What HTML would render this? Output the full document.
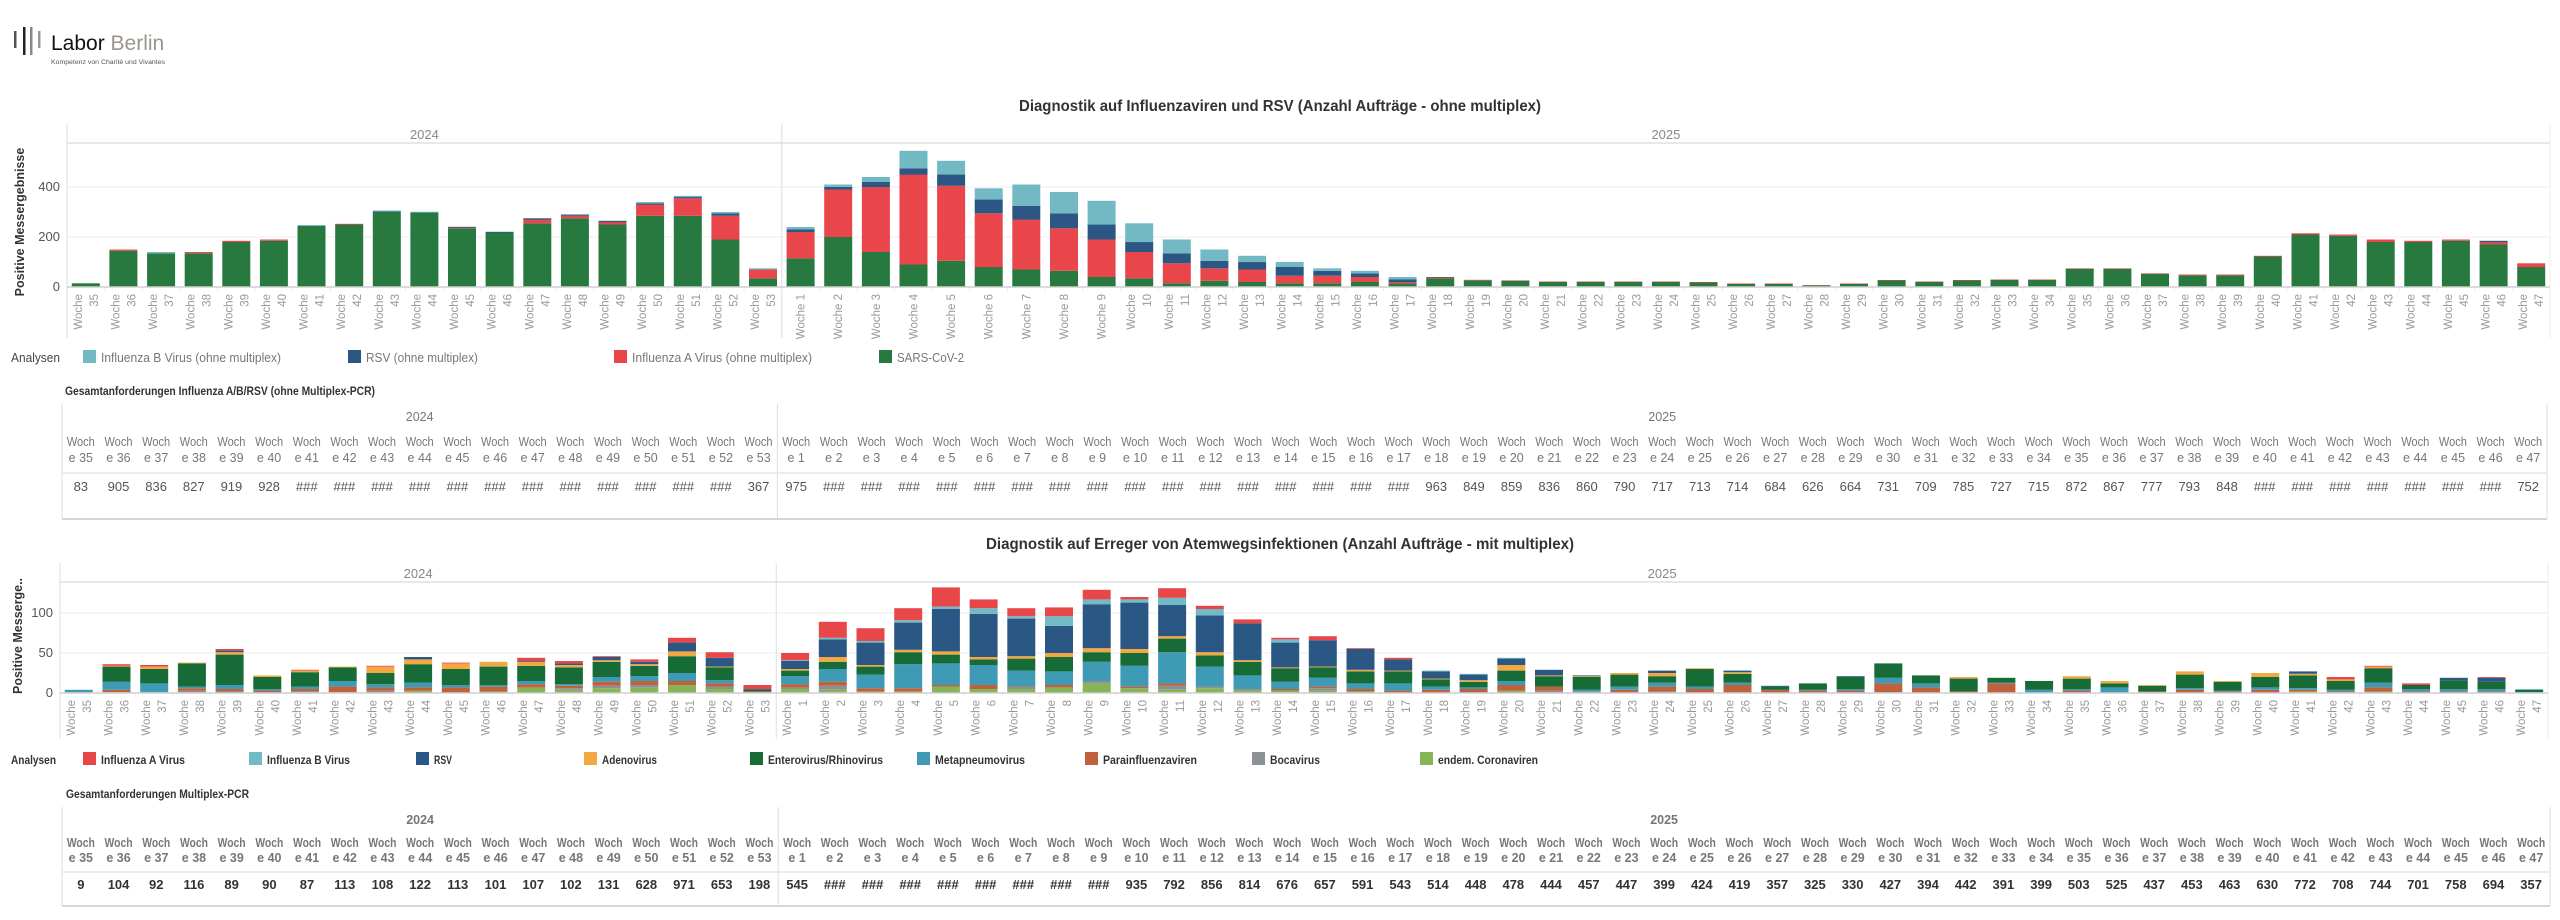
<!DOCTYPE html>
<html><head><meta charset="utf-8">
<style>
html,body{margin:0;padding:0;background:#fff;width:2560px;height:920px;overflow:hidden}
svg{display:block}
text{font-family:"Liberation Sans",sans-serif}
</style></head><body>
<svg id="s" xmlns="http://www.w3.org/2000/svg" width="2560" height="920" viewBox="0 0 2560 920">
<!-- logo -->
<rect x="14" y="31" width="2.5" height="17" fill="#555"/>
<rect x="23" y="27" width="2.5" height="28" fill="#222"/>
<rect x="30" y="27" width="2.5" height="28" fill="#888"/>
<rect x="38" y="31" width="2.5" height="17" fill="#999"/>
<text x="51" y="50" font-size="21" fill="#111">Labor <tspan fill="#9a968a">Berlin</tspan></text>
<text x="51" y="64" font-size="6.5" fill="#555" textLength="114" lengthAdjust="spacingAndGlyphs">Kompetenz von Charité und Vivantes</text>
<text x="1280" y="111" font-size="16" font-weight="bold" fill="#333" text-anchor="middle" textLength="522" lengthAdjust="spacingAndGlyphs">Diagnostik auf Influenzaviren und RSV (Anzahl Aufträge - ohne multiplex)</text>
<text x="1280" y="549" font-size="16" font-weight="bold" fill="#333" text-anchor="middle" textLength="588" lengthAdjust="spacingAndGlyphs">Diagnostik auf Erreger von Atemwegsinfektionen (Anzahl Aufträge - mit multiplex)</text>
<g id="g"></g>
</svg>
<script>
var g=document.getElementById('g'),out='';
function T(x,y,s,o){o=o||{};var a='<text x="'+x+'" y="'+y+'" font-size="'+(o.fs||12)+'" fill="'+(o.c||'#666')+'"';
 if(o.a)a+=' text-anchor="'+o.a+'"';if(o.b)a+=' font-weight="bold"';if(o.tl)a+=' textLength="'+o.tl+'" lengthAdjust="spacingAndGlyphs"';
 if(o.tr)a+=' transform="'+o.tr+'"';if(o.db)a+=' dominant-baseline="'+o.db+'"';out+=a+'>'+s+'</text>';}
function R(x,y,w,h,c){out+='<rect x="'+x.toFixed(1)+'" y="'+y.toFixed(1)+'" width="'+w.toFixed(1)+'" height="'+h.toFixed(1)+'" fill="'+c+'"/>';}
function L(x1,y1,x2,y2,c,w){out+='<line x1="'+x1+'" y1="'+y1+'" x2="'+x2+'" y2="'+y2+'" stroke="'+c+'" stroke-width="'+(w||1)+'"/>';}
var weeks=[];for(var i=35;i<=53;i++)weeks.push(i);for(i=1;i<=47;i++)weeks.push(i);

function chart(o){
 var pitch=(o.right-o.ax)/66;
 // grid
 o.ticks.forEach(function(t){var y=o.base-t*o.sc;if(t>0)L(o.ax,y,o.right,y,'#eeeeee',1);T(o.ax-7,y+4,t,{fs:13,c:'#555',a:'end'});});
 L(o.ax,o.hl,o.right,o.hl,'#e0e0e0',1.5);
 L(o.ax,o.top,o.ax,o.bot,'#ddd',1);
 var dx=o.ax+19*pitch;L(dx,o.top,dx,o.bot,'#ddd',1);L(o.right,o.top,o.right,o.bot,'#eee',1);
 T((o.ax+dx)/2,o.yy,'2024',{fs:13,c:'#888',a:'middle'});T((dx+o.right)/2,o.yy,'2025',{fs:13,c:'#888',a:'middle'});
 for(var i=0;i<66;i++){
  var cx=o.ax+pitch*(i+.5),y=o.base,d=o.data[i];
  for(var k=0;k<d.length;k++){if(!d[k])continue;var h=d[k]*o.sc;R(cx-14,y-h,28,h,o.cols[k]);y-=h;}
  var ty=o.base+7;
  if(o.single&&i>=19&&i<28){T(cx+4,ty,'Woche '+weeks[i],{fs:11.5,c:'#999',a:'end',tr:'rotate(-90 '+(cx+4)+' '+ty+')'});}
  else{T(cx-4,ty,'Woche',{fs:11.5,c:'#999',a:'end',tr:'rotate(-90 '+(cx-4)+' '+ty+')'});
   T(cx+12,ty,weeks[i],{fs:11.5,c:'#999',a:'end',tr:'rotate(-90 '+(cx+12)+' '+ty+')'});}
  L(cx+pitch/2,o.base,cx+pitch/2,o.base+4,'#eee',1);
 }
 L(o.ax,o.base,o.right,o.base,'#cfcfcf',1.5);
 T(0,0,o.ylab,{fs:12.5,b:1,c:'#333',a:'middle',tr:'translate('+o.ylx+','+o.yly+') rotate(-90)'});
}
// chart1 data [SARS, FluA, RSV, FluB]
var d1=[[15],[145,5],[135,0,0,5],[135,5],[180,5],[185,5],[245,0,0,3],[250,3],[300,0,3,3],[298,0,0,3],[235,3,3],[218,0,3],[255,15,5],[275,10,5],[250,10,5],[285,45,5,5],[285,70,5,5],[190,95,10,5],[35,35,0,5],
[115,105,10,10],[200,190,10,10],[140,260,20,20],[90,360,25,70],[105,300,45,55],[80,215,55,45],[70,200,55,85],[65,170,60,85],[40,150,60,95],[35,105,40,75],[15,80,40,55],[25,50,30,45],[20,50,30,25],[15,30,35,20],[15,30,20,10],[20,20,15,10],[15,5,10,10],
[35,3,2],[27,2],[25,2],[20,2],[20,2],[20,2],[20,2],[18,2],[12,2],[12,2],[7,1],[12,2],[26,2],[20,2],[26,2],[28,2],[28,2],[73,2],[73,2],[53,2],[47,3],[47,3],[122,3],[210,5],[205,5],[180,10],[180,5],[185,5],[170,10,5],[80,15]];
chart({ax:67,right:2550,top:124,hl:143,yy:139,base:287,sc:0.25,bot:338,ticks:[0,200,400],data:d1,cols:['#27793f','#e8464a','#2c5784','#72b9c4'],single:1,ylab:'Positive Messergebnisse',ylx:24,yly:222});
// chart2 data [corona, boca, para, meta, entero, adeno, RSV, FluB, FluA]
var d2=[[1,0,0,3],[1,0,3,10,19,1,0,0,2],[1,0,0,11,18,3,0,0,2],[1,2,3,2,29,1],[0,2,3,5,38,3,2,0,2],[0,0,3,2,15,2],[1,1,3,3,18,2,0,0,1],[1,0,7,7,17,1],[0,3,4,4,14,8,0,0,1],[3,0,4,6,23,6,3],[0,0,7,3,20,7,0,0,1],[2,0,6,2,23,6],[7,0,4,4,19,5,1,0,4],[4,2,3,2,21,3,2,0,3],[6,3,5,6,19,2,4,0,1],[7,3,5,6,13,2,3,0,3],[10,0,5,10,21,6,11,0,6],[5,3,4,4,16,1,11,0,7],[1,0,1,0,2,0,1,0,5],
[5,2,4,10,7,2,10,1,9],[4,5,5,16,9,6,22,2,20],[2,0,4,17,10,2,28,2,16],[2,0,4,30,15,3,34,3,15],[8,0,2,27,11,4,53,3,24],[5,0,5,25,7,3,54,7,11],[5,2,1,20,15,3,47,3,10],[7,0,3,17,18,5,34,12,11],[12,3,0,24,12,5,55,6,12],[6,0,2,26,16,5,58,4,3],[4,5,3,39,17,3,39,9,12],[6,2,0,25,14,4,46,8,4],[3,2,0,17,17,2,46,0,5],[3,0,2,9,17,1,31,4,2],[3,3,2,11,13,1,33,0,5],[2,0,3,7,15,2,26,0,1],[0,0,3,9,15,1,14,0,2],[0,0,4,4,9,1,9,1],[0,0,5,2,7,2,7,1],[3,0,7,5,13,7,8,1],[0,3,5,0,13,1,7],
[0,2,0,2,16,1,1],[0,0,4,4,15,2],[0,2,6,5,8,4,3],[0,0,5,3,22,1],[0,0,10,3,11,2,2],[0,0,4,0,4,0,1],[0,0,3,1,8],[0,0,3,2,15,0,1],[0,1,11,7,18],[0,0,7,5,10],[0,0,2,0,16,2],[0,0,12,1,6],[0,0,0,4,11],[0,0,3,2,13,3],[0,0,0,7,5,3],[1,0,1,0,7,1],[0,0,4,2,17,4],[0,0,2,1,11,1],[0,0,4,3,13,5],[2,0,2,2,16,2,3],[0,0,2,2,11,2,0,0,3],[2,0,5,6,18,2,0,0,1],[0,0,2,3,5,0,0,0,2],[0,0,2,3,11,0,3],[0,0,2,3,9,0,5,0,1],[0,0,0,1,3,0,0,1]];
chart({ax:60,right:2548,top:563,hl:582,yy:578,base:693,sc:0.8,bot:739,ticks:[0,50,100],data:d2,cols:['#86b456','#8b9295','#c0603c','#3f9bb5','#176b37','#f3a943','#2b5784','#72bac6','#e8474a'],ylab:'Positive Messerge..',ylx:22,yly:636});
// legends
T(11,362,'Analysen',{fs:13,c:'#444',tl:49});
[['Influenza B Virus (ohne multiplex)','#72b9c4',83,180],['RSV (ohne multiplex)','#2c5784',348,112],['Influenza A Virus (ohne multiplex)','#e8464a',614,180],['SARS-CoV-2','#27793f',879,67]].forEach(function(l){R(l[2],350,13,13,l[1]);T(l[2]+18,362,l[0],{fs:13,c:'#777',tl:l[3]});});
T(11,764,'Analysen',{fs:12,c:'#333',b:1,tl:45});
[['Influenza A Virus','#e8474a',83,84],['Influenza B Virus','#72bac6',249,83],['RSV','#2b5784',416,18],['Adenovirus','#f3a943',584,55],['Enterovirus/Rhinovirus','#176b37',750,115],['Metapneumovirus','#3f9bb5',917,90],['Parainfluenzaviren','#c0603c',1085,94],['Bocavirus','#8b9295',1252,50],['endem. Coronaviren','#86b456',1420,100]].forEach(function(l){R(l[2],752,13,13,l[1]);T(l[2]+18,764,l[0],{fs:12,c:'#333',b:1,tl:l[3]});});
// tables
function table(o){
 T(o.tx,o.ty,o.title,{fs:12,b:1,c:'#333',tl:o.tw});
 var pitch=(o.r-o.l)/66,dx=o.l+19*pitch;
 L(o.l,o.top,o.l,o.bot,'#ddd',1);L(dx,o.top,dx,o.bot,'#ddd',1);L(o.r,o.top,o.r,o.bot,'#ddd',1);
 L(o.l,o.line,o.r,o.line,'#e6e6e6',1.5);L(o.l,o.bot,o.r,o.bot,'#d6d6d6',2);
 T((o.l+dx)/2,o.yy+5,'2024',{fs:12.5,c:'#777',a:'middle',b:o.b});T((dx+o.r)/2,o.yy+5,'2025',{fs:12.5,c:'#777',a:'middle',b:o.b});
 for(var i=0;i<66;i++){var cx=o.l+pitch*(i+.5);
  T(cx,o.w1+5,'Woch',{fs:12.5,c:'#777',a:'middle',tl:28,b:o.b});
  T(cx,o.w2+5,'e '+weeks[i],{fs:12.5,c:'#777',a:'middle',b:o.b});
  T(cx,o.v+5,o.vals[i],{fs:13,c:o.vc,a:'middle',b:o.b});}
}
var v1=[83,905,836,827,919,928];for(var i=0;i<12;i++)v1.push('###');v1.push(367,975);for(i=0;i<16;i++)v1.push('###');
v1=v1.concat([963,849,859,836,860,790,717,713,714,684,626,664,731,709,785,727,715,872,867,777,793,848]);for(i=0;i<7;i++)v1.push('###');v1.push(752);
table({title:'Gesamtanforderungen Influenza A/B/RSV (ohne Multiplex-PCR)',tx:65,ty:395,tw:310,l:62,r:2547,top:404,bot:519,line:473,yy:416,w1:441,w2:457,v:486,vals:v1,vc:'#555'});
var v2=[9,104,92,116,89,90,87,113,108,122,113,101,107,102,131,628,971,653,198,545];for(i=0;i<8;i++)v2.push('###');
v2=v2.concat([935,792,856,814,676,657,591,543,514,448,478,444,457,447,399,424,419,357,325,330,427,394,442,391,399,503,525,437,453,463,630,772,708,744,701,758,694,357]);
table({title:'Gesamtanforderungen Multiplex-PCR',tx:66,ty:798,tw:183,l:62,r:2550,top:807,bot:906,line:872,yy:819,w1:842,w2:857,v:884,vals:v2,vc:'#333',b:1});
g.innerHTML=out;
</script>
</body></html>
